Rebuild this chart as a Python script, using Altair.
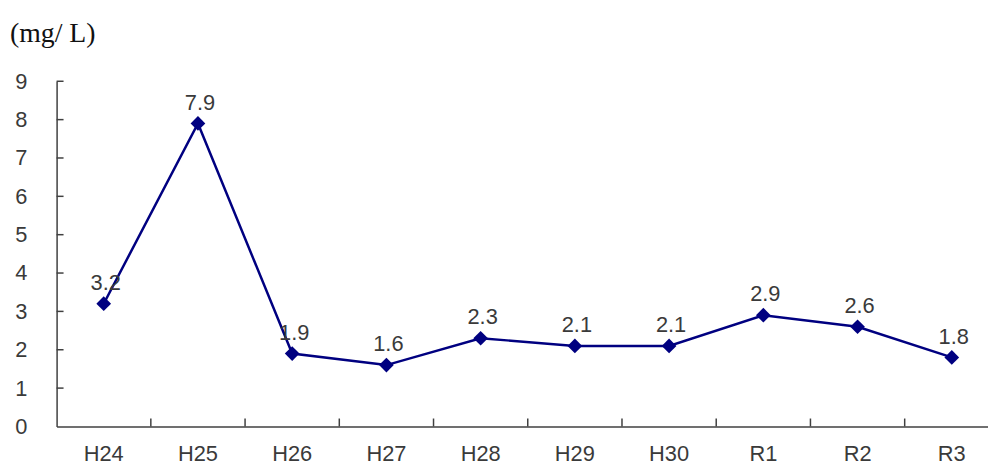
import altair as alt
import pandas as pd

categories = ["H24", "H25", "H26", "H27", "H28", "H29", "H30", "R1", "R2", "R3"]
values = [3.2, 7.9, 1.9, 1.6, 2.3, 2.1, 2.1, 2.9, 2.6, 1.8]
y_ticks = [1, 2, 3, 4, 5, 6, 7, 8, 9]
unit_label = "(mg/ L)"

df = pd.DataFrame({"cat": categories, "val": values})
df_xt = pd.DataFrame({"cat": categories[1:]})
df_yt = pd.DataFrame({"val": y_ticks})

H = 348
W = 939
FONT = "Liberation Sans"
TXT = "#3a3a3a"
AX = "#404040"
NAVY = "#000080"

xscale = alt.Scale(domain=categories, range=[0, 950], paddingInner=0, paddingOuter=0)
yscale = alt.Scale(domain=[0, 9], nice=False, zero=True)

yvals = list(range(0, 10))

base = alt.Chart(df)

line = base.mark_line(color=NAVY, strokeWidth=2.5).encode(
    x=alt.X("cat:N", scale=xscale, sort=categories, title=None),
    y=alt.Y("val:Q", scale=yscale, title=None, axis=alt.Axis(values=yvals)),
)
points = base.mark_point(shape="diamond", filled=True, color=NAVY, size=220, opacity=1).encode(
    x=alt.X("cat:N", sort=categories, title=None),
    y=alt.Y("val:Q", title=None, axis=alt.Axis(values=yvals)),
)
labels = base.mark_text(font=FONT, fontSize=22, color=TXT, baseline="alphabetic",
                        dy=-14, dx=2).encode(
    x=alt.X("cat:N", sort=categories, title=None),
    y=alt.Y("val:Q", title=None, axis=alt.Axis(values=yvals)),
    text=alt.Text("val:Q", format=".1f"),
)
xticks = alt.Chart(df_xt).mark_rule(color=AX, strokeWidth=1.5).encode(
    x=alt.X("cat:N", bandPosition=0, sort=categories, title=None),
    y=alt.value(H),
    y2=alt.value(H - 8),
)
yticks = alt.Chart(df_yt).mark_rule(color=AX, strokeWidth=1.5).encode(
    y=alt.Y("val:Q", title=None, axis=alt.Axis(values=yvals)),
    x=alt.value(0),
    x2=alt.value(7),
)
unit = alt.Chart(pd.DataFrame({"t": [unit_label]})).mark_text(
    font="Liberation Serif", fontSize=28, color="#111111", align="left",
    baseline="alphabetic").encode(
    text="t:N", x=alt.value(-47), y=alt.value(-40))

chart = alt.layer(line, points, labels, xticks, yticks, unit).properties(
    width=W, height=H,
    background="white",
    autosize=alt.AutoSizeParams(type="none"),
    padding={"left": 49, "top": 72, "right": 0, "bottom": 38},
).configure_view(stroke=None).configure_axis(
    labelFont=FONT, labelFontSize=22, labelColor=TXT, tickSize=0,
    domainColor=AX, domainWidth=1.5, grid=False, labelOverlap=False,
    labelFlush=False, labelBound=False,
).configure_axisX(labelAngle=0, labelPadding=17).configure_axisY(
    labelPadding=30
)

chart.save("out.html", embed_options={"renderer": "svg", "actions": False})
